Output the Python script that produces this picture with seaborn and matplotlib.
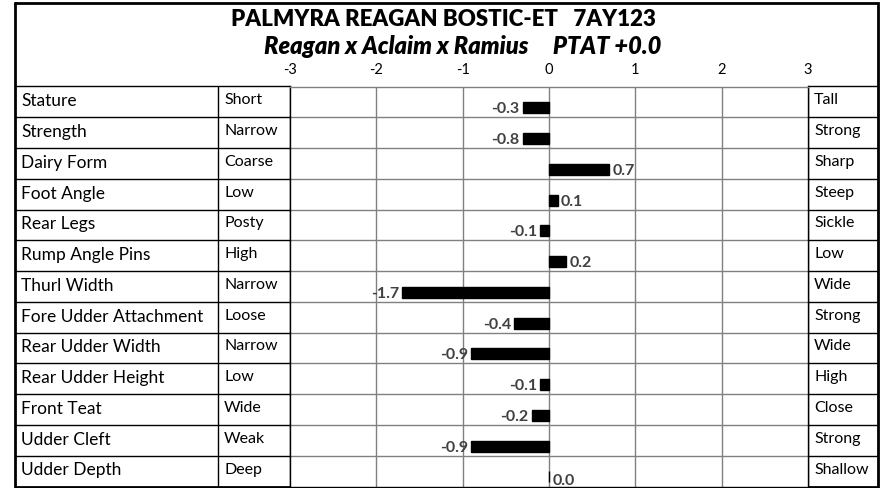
import matplotlib
matplotlib.use('Agg')
import matplotlib.pyplot as plt
import matplotlib.transforms as mtransforms
import seaborn as sns
import pandas as pd

traits = ['Stature', 'Strength', 'Dairy Form', 'Foot Angle', 'Rear Legs',
          'Rump Angle Pins', 'Thurl Width', 'Fore Udder Attachment',
          'Rear Udder Width', 'Rear Udder Height', 'Front Teat', 'Udder Cleft',
          'Udder Depth']
low_labels = ['Short', 'Narrow', 'Coarse', 'Low', 'Posty', 'High', 'Narrow',
              'Loose', 'Narrow', 'Low', 'Wide', 'Weak', 'Deep']
high_labels = ['Tall', 'Strong', 'Sharp', 'Steep', 'Sickle', 'Low', 'Wide',
               'Strong', 'Wide', 'High', 'Close', 'Strong', 'Shallow']
# bar lengths as drawn, and the printed value labels
bar_values = [-0.3, -0.3, 0.7, 0.1, -0.1, 0.2, -1.7, -0.4, -0.9, -0.1, -0.2, -0.9, 0.0]
value_labels = ['-0.3', '-0.8', '0.7', '0.1', '-0.1', '0.2', '-1.7', '-0.4',
                '-0.9', '-0.1', '-0.2', '-0.9', '0.0']
ticks = [-3, -2, -1, 0, 1, 2, 3]

title = 'PALMYRA REAGAN BOSTIC-ET   7AY123'
subtitle = 'Reagan x Aclaim x Ramius     PTAT +0.0'

df = pd.DataFrame({'trait': traits, 'value': bar_values})

sns.set_theme(style='white')
plt.rcParams['font.family'] = ['Lato', 'DejaVu Sans']

W, H = 888, 488
fig = plt.figure(figsize=(W / 100, H / 100), dpi=100)

# table frame in pixel units
L, C1, C2, C3, R = 15, 218, 290, 808, 878
TOP, T_TOP, BOT = 3, 86.5, 486.5

bg = fig.add_axes([0, 0, 1, 1])
bg.set_xlim(0, W)
bg.set_ylim(H, 0)
bg.axis('off')

ax = fig.add_axes([C2 / W, (H - BOT) / H, (C3 - C2) / W, (BOT - T_TOP) / H])

sns.barplot(data=df, x='value', y='trait', orient='h', color='black',
            width=0.36, errorbar=None, saturation=1, ax=ax)
for p in ax.patches:
    p.set_y(p.get_y() + 0.19)
    p.set_edgecolor('black')

ax.set_xlim(-3, 3)
ax.set_ylim(len(traits) - 0.5, -0.5)
ax.set_xticks(ticks)
ax.set_xticklabels([str(t) for t in ticks])
ax.xaxis.set_ticks_position('top')
ax.tick_params(axis='x', length=0, pad=7, labelsize=10.5, labelcolor='black')
ax.set_yticks([])
ax.set_xlabel('')
ax.set_ylabel('')
for t in ticks[1:-1]:
    ax.axvline(t, color='#808080', lw=1.0, zorder=0)
for k in range(len(traits) - 1):
    ax.axhline(k + 0.5, color='#808080', lw=1.0, zorder=0)
for s in ax.spines.values():
    s.set_color('black')
    s.set_linewidth(1.0)
ax.spines['top'].set_color('#808080')

# value labels
for i, (v, lab) in enumerate(zip(bar_values, value_labels)):
    dy = 0.33 if v == 0 else 0.24
    if v < 0:
        ax.text(v - 0.04, i + dy, lab, ha='right', va='center',
                fontsize=11.5, fontweight='bold', color='#404040')
    else:
        ax.text(v + 0.04, i + dy, lab, ha='left', va='center',
                fontsize=11.5, fontweight='bold', color='#404040')

# side label columns
tr = mtransforms.blended_transform_factory(bg.transData, ax.transData)
for i, (t, lo, hi) in enumerate(zip(traits, low_labels, high_labels)):
    ax.text(21, i - 0.02, t, transform=tr, ha='left', va='center',
            fontsize=12.5, color='black', clip_on=False)
    ax.text(224, i - 0.05, lo, transform=tr, ha='left', va='center',
            fontsize=11.5, color='black', clip_on=False)
    ax.text(814, i - 0.05, hi, transform=tr, ha='left', va='center',
            fontsize=11.5, color='black', clip_on=False)
for k in range(len(traits)):
    y = k - 0.5
    ax.plot([L, C2], [y, y], transform=tr, color='black', lw=1.0, clip_on=False)
    ax.plot([C3, R], [y, y], transform=tr, color='black', lw=1.0, clip_on=False)

bg.plot([C1, C1], [T_TOP, BOT], color='black', lw=1.0)
bg.plot([C2, C2], [T_TOP, BOT], color='black', lw=1.0)
bg.plot([C3, C3], [T_TOP, BOT], color='black', lw=1.0)

# outer border
bg.plot([L, R, R, L, L], [TOP, TOP, BOT, BOT, TOP], color='black', lw=2.0,
        solid_joinstyle='miter')

bg.text(443, 20, title, ha='center', va='center', fontsize=16,
        fontweight='heavy', color='black')
bg.text(463, 47, subtitle, ha='center', va='center', fontsize=17,
        fontweight='heavy', fontstyle='italic', color='black')

fig.savefig('out.png', dpi=100, facecolor='white')
